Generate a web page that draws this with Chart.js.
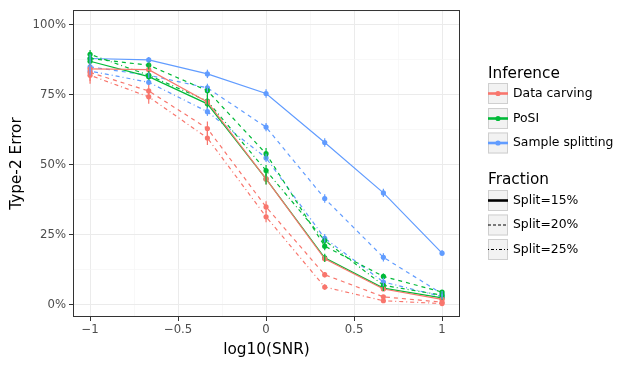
<!DOCTYPE html>
<html>
<head>
<meta charset="utf-8">
<script src="https://cdn.jsdelivr.net/npm/chart.js@4"></script>
<style>
    html, body { margin: 0; padding: 0; background: #fff; }
    #wrap { width: 639px; height: 368px; position: relative; }
</style>
</head>
<body>
<div id="wrap"><canvas id="chart" width="639" height="368"></canvas></div>
<script>
// log10(SNR) positions
const logSnr = [-1, -0.6667, -0.3333, 0, 0.3333, 0.6667, 1];

// Type-2 error (%), one array per method and split fraction
const carving15 = [84.3, 84, 72.5, 45, 16.5, 5.7, 2];
const carving20 = [83, 76.4, 63, 35, 10.8, 2.9, 1];
const carving25 = [82, 74.3, 59.6, 31.5, 6.4, 1.5, 0.5];

const posi15 = [87, 81.5, 71.8, 45, 16.8, 6, 2.5];
const posi20 = [88, 85.6, 76.5, 54, 21, 10.2, 4.6];
const posi25 = [89.5, 82, 72.8, 48, 23, 7, 3.5];

const split15 = [88, 87.5, 82.5, 75.5, 58, 40, 18.5];
const split20 = [85, 82, 77.5, 63.5, 38, 17, 4];
const split25 = [83.5, 79.5, 69, 52.5, 23.8, 8.2, 3];

// error bar half widths (%)
const carvingErr = [3, 2.5, 2.5, 2, 1, 0.6, 0.4];
const posiErr = [1.5, 1.5, 2, 2, 1.5, 1, 0.6];
const splitErr = [1.5, 1, 1.5, 1.5, 1.5, 1.5, 1];

const xTicks = [-1, -0.5, 0, 0.5, 1];
const yTicks = [0, 25, 50, 75, 100];

const inferenceNames = ['Data carving', 'PoSI', 'Sample splitting'];
const fractionNames = ['Split=15%', 'Split=20%', 'Split=25%'];

const colors = { carving: '#F8766D', posi: '#00BA38', split: '#619CFF' };
const dashes = { s15: [], s20: [4, 4], s25: [1, 3, 4, 3] };

const series = [
    { values: carving15, err: carvingErr, color: colors.carving, dash: dashes.s15 },
    { values: carving20, err: carvingErr, color: colors.carving, dash: dashes.s20 },
    { values: carving25, err: carvingErr, color: colors.carving, dash: dashes.s25 },
    { values: posi15, err: posiErr, color: colors.posi, dash: dashes.s15 },
    { values: posi20, err: posiErr, color: colors.posi, dash: dashes.s20 },
    { values: posi25, err: posiErr, color: colors.posi, dash: dashes.s25 },
    { values: split15, err: splitErr, color: colors.split, dash: dashes.s15 },
    { values: split20, err: splitErr, color: colors.split, dash: dashes.s20 },
    { values: split25, err: splitErr, color: colors.split, dash: dashes.s25 }
];

const datasets = series.map(s => ({
    data: s.values.map((v, i) => ({ x: logSnr[i], y: v })),
    errors: s.err,
    borderColor: s.color,
    backgroundColor: s.color,
    borderDash: s.dash,
    borderWidth: 1.2,
    pointRadius: 2.6,
    pointBorderWidth: 0,
    pointHoverRadius: 2.6,
    tension: 0,
    fill: false
}));

const FONT = '"DejaVu Sans", sans-serif';
const isMajor = (list, v) => list.some(t => Math.abs(t - v) < 1e-6);

const panelPlugin = {
    id: 'panel',
    afterDatasetsDraw (chart) {
        const { ctx } = chart;
        const xs = chart.scales.x;
        const ys = chart.scales.y;
        ctx.save();
        chart.data.datasets.forEach(ds => {
            ctx.strokeStyle = ds.borderColor;
            ctx.lineWidth = 1.2;
            ds.data.forEach((p, i) => {
                const px = xs.getPixelForValue(p.x);
                ctx.beginPath();
                ctx.moveTo(px, ys.getPixelForValue(p.y - ds.errors[i]));
                ctx.lineTo(px, ys.getPixelForValue(p.y + ds.errors[i]));
                ctx.stroke();
            });
        });
        ctx.restore();
    },
    afterDraw (chart) {
        const { ctx, chartArea: a } = chart;
        ctx.save();
        // panel border
        ctx.strokeStyle = '#333333';
        ctx.lineWidth = 1;
        ctx.strokeRect(a.left + 0.5, a.top + 0.5, a.right - a.left - 1, a.bottom - a.top - 1);

        // axis titles
        ctx.fillStyle = '#000';
        ctx.font = '15.3px ' + FONT;
        ctx.textAlign = 'center';
        ctx.textBaseline = 'middle';
        ctx.fillText('log10(SNR)', (a.left + a.right) / 2, 350);
        ctx.save();
        ctx.translate(17, (a.top + a.bottom) / 2);
        ctx.rotate(-Math.PI / 2);
        ctx.fillText('Type-2 Error', 0, 0);
        ctx.restore();

        // legends
        const keyX = 488;
        const keyW = 20;
        const keyH = 21;
        const drawKey = (cy) => {
            ctx.fillStyle = '#f2f2f2';
            ctx.fillRect(keyX, cy - keyH / 2, keyW, keyH);
            ctx.strokeStyle = '#cfcfcf';
            ctx.lineWidth = 1;
            ctx.strokeRect(keyX + 0.5, cy - keyH / 2 + 0.5, keyW - 1, keyH - 1);
        };
        ctx.textAlign = 'left';
        ctx.fillStyle = '#000';
        ctx.font = '15.3px ' + FONT;
        ctx.fillText('Inference', keyX, 74);

        const infColors = [colors.carving, colors.posi, colors.split];
        const infRows = [93.5, 118.5, 143];
        inferenceNames.forEach((name, i) => {
            const cy = infRows[i];
            drawKey(cy);
            ctx.strokeStyle = infColors[i];
            ctx.lineWidth = 2.6;
            ctx.beginPath();
            ctx.moveTo(keyX, cy);
            ctx.lineTo(keyX + keyW, cy);
            ctx.stroke();
            ctx.fillStyle = infColors[i];
            ctx.beginPath();
            ctx.arc(keyX + keyW / 2, cy, 2.6, 0, Math.PI * 2);
            ctx.fill();
            ctx.fillStyle = '#000';
            ctx.font = '12.4px ' + FONT;
            ctx.fillText(name, 513, cy);
        });

        ctx.font = '15.3px ' + FONT;
        ctx.fillText('Fraction', keyX, 180);
        const fracRows = [200.5, 225, 249.5];
        const fracDash = [[], [3, 2], [1, 2, 3, 2]];
        const fracWidth = [2.6, 1, 1];
        fractionNames.forEach((name, i) => {
            const cy = fracRows[i];
            drawKey(cy);
            ctx.strokeStyle = '#000';
            ctx.lineWidth = fracWidth[i];
            ctx.setLineDash(fracDash[i]);
            ctx.beginPath();
            ctx.moveTo(keyX, cy);
            ctx.lineTo(keyX + keyW, cy);
            ctx.stroke();
            ctx.setLineDash([]);
            ctx.fillStyle = '#000';
            ctx.font = '12.4px ' + FONT;
            ctx.fillText(name, 513, cy);
        });
        ctx.restore();
    }
};

new Chart(document.getElementById('chart'), {
    type: 'line',
    data: { datasets },
    plugins: [panelPlugin],
    options: {
        responsive: false,
        animation: false,
        events: [],
        layout: { padding: { top: 10, right: 179, bottom: 0, left: 0 } },
        plugins: {
            legend: { display: false },
            tooltip: { enabled: false }
        },
        scales: {
            x: {
                type: 'linear',
                min: -1.097,
                max: 1.102,
                afterFit: scale => { scale.height = 51; },
                afterBuildTicks: scale => {
                    scale.ticks = [-1, -0.75, -0.5, -0.25, 0, 0.25, 0.5, 0.75, 1].map(v => ({ value: v }));
                },
                border: { display: false },
                grid: {
                    color: c => isMajor(xTicks, c.tick.value) ? '#ebebeb' : '#f5f5f5',
                    lineWidth: c => isMajor(xTicks, c.tick.value) ? 1 : 0.7,
                    tickColor: c => isMajor(xTicks, c.tick.value) ? '#333333' : 'rgba(0,0,0,0)',
                    tickLength: 4
                },
                ticks: {
                    autoSkip: false,
                    maxRotation: 0,
                    padding: 2,
                    color: '#4d4d4d',
                    font: { family: FONT, size: 11.7 },
                    callback: v => isMajor(xTicks, v) ? (v < 0 ? '\u2212' + Math.abs(v) : String(v)) : ''
                }
            },
            y: {
                type: 'linear',
                min: -4.3,
                max: 105.3,
                afterFit: scale => { scale.width = 73; },
                afterBuildTicks: scale => {
                    scale.ticks = [0, 12.5, 25, 37.5, 50, 62.5, 75, 87.5, 100].map(v => ({ value: v }));
                },
                border: { display: false },
                grid: {
                    color: c => isMajor(yTicks, c.tick.value) ? '#ebebeb' : '#f5f5f5',
                    lineWidth: c => isMajor(yTicks, c.tick.value) ? 1 : 0.7,
                    tickColor: c => isMajor(yTicks, c.tick.value) ? '#333333' : 'rgba(0,0,0,0)',
                    tickLength: 4
                },
                ticks: {
                    autoSkip: false,
                    padding: 3,
                    color: '#4d4d4d',
                    font: { family: FONT, size: 11.7 },
                    callback: v => isMajor(yTicks, v) ? v + '%' : ''
                }
            }
        }
    }
});
</script>
</body>
</html>
